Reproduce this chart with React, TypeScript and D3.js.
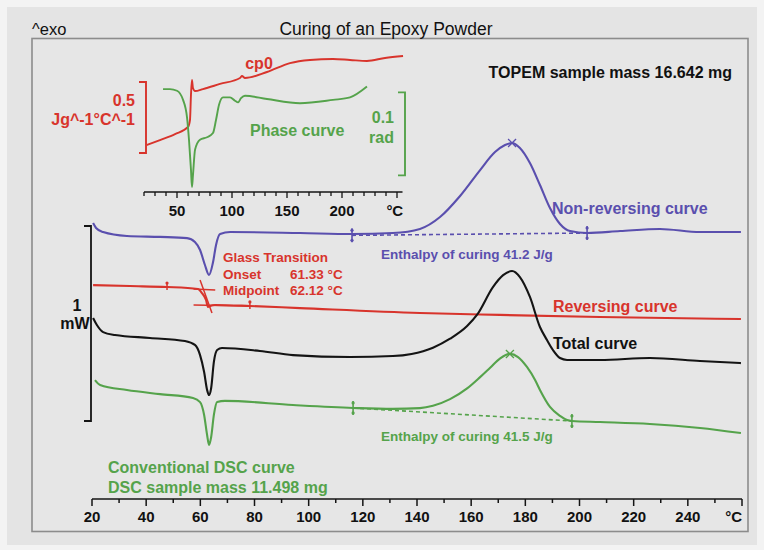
import React from "react";
import * as d3 from "d3";

// ---------- data (temperature °C, heat flow mW with plot offsets) ----------
const nonRevT = [20.4, 21.5, 24.1, 32.9, 45.1, 55.1, 58.0, 59.9, 61.7, 63.2, 64.7, 65.8, 67.3, 71, 96.8, 116, 131.1, 141.1, 148.5, 155.9, 163.3, 168.8, 172.5, 175.1, 178.0, 181.7, 185.4, 189.1, 192.8, 196.5, 202.8, 215, 229.7, 244.5, 259.6];
const nonRevV = [1.415, 1.39, 1.369, 1.349, 1.344, 1.338, 1.318, 1.277, 1.2, 1.149, 1.215, 1.303, 1.359, 1.369, 1.364, 1.359, 1.364, 1.385, 1.446, 1.554, 1.687, 1.779, 1.815, 1.826, 1.8, 1.723, 1.61, 1.492, 1.41, 1.374, 1.364, 1.374, 1.385, 1.369, 1.369];

const revT = [20.4, 34, 47.7, 59.1, 60.6, 62.1, 62.8, 63.6, 65.4, 78.3, 96.8, 141.1, 170.6, 207.6, 259.6];
const revV = [1.097, 1.092, 1.087, 1.077, 1.056, 1.021, 0.985, 0.99, 0.995, 0.99, 0.979, 0.954, 0.944, 0.933, 0.923];

const totalT = [20.4, 21.8, 24.1, 28.5, 41.4, 54.3, 58, 59.9, 61.4, 62.5, 63.2, 64, 65, 66.2, 68, 82, 94.2, 115.3, 131.1, 138, 145.9, 152.2, 158.5, 162.2, 168.1, 171.8, 175.1, 178, 181.7, 185.4, 188, 190.2, 192.8, 195.4, 207.6, 226, 244.5, 259.6];
const totalV = [0.928, 0.892, 0.856, 0.841, 0.826, 0.81, 0.79, 0.738, 0.651, 0.559, 0.533, 0.569, 0.703, 0.764, 0.774, 0.759, 0.738, 0.728, 0.733, 0.744, 0.776, 0.822, 0.887, 0.945, 1.088, 1.148, 1.169, 1.138, 1.036, 0.882, 0.815, 0.764, 0.723, 0.713, 0.713, 0.723, 0.708, 0.697];

const dscT = [21.1, 23, 32.9, 45.1, 57.3, 59.9, 61.4, 62.5, 63.2, 64, 65, 66.2, 69.1, 94.2, 116.4, 131, 141.1, 145.9, 152.2, 158.5, 163.3, 167, 170.6, 174.3, 177.3, 180.6, 183.6, 185.4, 189.1, 192.8, 195.4, 197.2, 207.6, 226, 244.5, 259.6];
const dscV = [0.61, 0.585, 0.559, 0.538, 0.518, 0.497, 0.431, 0.328, 0.277, 0.318, 0.431, 0.497, 0.503, 0.482, 0.467, 0.462, 0.466, 0.478, 0.512, 0.567, 0.625, 0.673, 0.72, 0.744, 0.728, 0.677, 0.61, 0.559, 0.472, 0.426, 0.405, 0.4, 0.395, 0.385, 0.364, 0.338];

// inset: cp0 (J/g°C) and phase (rad)
const cpT = [22.7, 34.5, 48.2, 60, 61.8, 62.7, 63.6, 64.5, 66.4, 73.6, 89.1, 107.3, 109.1, 111.8, 131.8, 152.7, 170.9, 191.8, 207.3, 222.7, 239.1, 255.5];
const cpV = [0.331, 0.366, 0.408, 0.458, 0.507, 0.683, 0.789, 0.732, 0.711, 0.725, 0.761, 0.803, 0.817, 0.803, 0.845, 0.908, 0.93, 0.937, 0.93, 0.923, 0.944, 0.958];

const phT = [37.3, 43.6, 50, 55.5, 59.1, 60.9, 62.7, 63.6, 64.5, 66.4, 70.9, 77.3, 82.7, 85.5, 88.2, 91.8, 98.2, 102.7, 105.5, 108.2, 111.8, 131.8, 161.8, 191.8, 207.3, 222.7];
const phV = [0.124, 0.124, 0.122, 0.111, 0.09, 0.063, 0.027, 0.006, 0.02, 0.051, 0.063, 0.066, 0.071, 0.087, 0.105, 0.114, 0.114, 0.11, 0.108, 0.113, 0.116, 0.112, 0.107, 0.111, 0.114, 0.127];

// enthalpy baselines [T1, v1, T2, v2] and peak temps
const nonRevBase = [116, 1.352, 202.8, 1.364];
const dscBase = [116.4, 0.467, 197.2, 0.4];
const nonRevPeak = [175.1, 1.826];
const dscPeak = [174.3, 0.744];

// glass transition construction (T, mW)
const tgUpper = [57.5, 1.077, 65.5, 1.072];
const tgLower = [57.5, 0.995, 78, 0.99];
const tgSteep = [59.9, 1.123, 64.3, 0.954];
const tgMarks = [[47.7, 1.087], [78.3, 0.99]];

const mainTicks = d3.range(20, 261, 10);
const mainLabels = [20, 40, 60, 80, 100, 120, 140, 160, 180, 200, 220, 240];
const insetTicks = d3.range(20, 251, 10);
const insetLabels = [50, 100, 150, 200];

const scaleBarStart = 0.4; // mW
const scaleBarLen = 1; // mW
const cpBar = [0.275, 0.775];
const phBar = [0.02, 0.12];

// ---------- colours ----------
const BLUE = "#5a4fae";
const RED = "#d8342c";
const GREEN = "#55a34b";
const BLACK = "#141414";
const FONT = "'Liberation Sans', Arial, sans-serif";

export default function App() {
  const x = d3.scaleLinear().domain([20, 260]).range([92, 742]);
  const y = d3.scaleLinear().domain([0, 2.5]).range([499, 11.5]);
  const xi = d3.scaleLinear().domain([20, 255]).range([144, 402.5]);
  const yc = d3.scaleLinear().domain([0, 1]).range([192, 50]);
  const yp = d3.scaleLinear().domain([0, 0.1]).range([192, 109]);

  const mk = (xs: number[], ys: number[], sx: any, sy: any) =>
    d3
      .line<number>()
      .x((_, i) => sx(xs[i]))
      .y((_, i) => sy(ys[i]))
      .curve(d3.curveMonotoneX)(xs.map((_, i) => i)) || "";

  const seg = (s: number[], sx: any, sy: any, color: string, extra: any = {}) => (
    <line x1={sx(s[0])} y1={sy(s[1])} x2={sx(s[2])} y2={sy(s[3])} stroke={color} {...extra} />
  );

  const marker = (t: number, v: number, color: string, key: string) => (
    <g key={key}>
      <line x1={x(t)} x2={x(t)} y1={y(v) - 7} y2={y(v) + 7} stroke={color} strokeWidth={1.6} />
      <circle cx={x(t)} cy={y(v) - 5} r={1.6} fill={color} />
      <circle cx={x(t)} cy={y(v) + 5} r={1.6} fill={color} />
    </g>
  );

  const cross = (t: number, v: number, color: string) => (
    <g stroke={color} strokeWidth={1.3}>
      <line x1={x(t) - 4} y1={y(v) - 4} x2={x(t) + 4} y2={y(v) + 4} />
      <line x1={x(t) - 4} y1={y(v) + 4} x2={x(t) + 4} y2={y(v) - 4} />
    </g>
  );

  const big = { fontFamily: FONT, fontWeight: 700, fontSize: 16 };
  const mid = { fontFamily: FONT, fontWeight: 700, fontSize: 13.5 };
  const cpX = xi(20) + 2;

  return (
    <svg width={764} height={550} style={{ position: "absolute", left: 0, top: 0 }}>
      <rect x={0} y={0} width={764} height={550} fill="#f3f3f3" />
      <rect x={7} y={7} width={750} height={538} fill="#e4e4e4" />
      <rect x={32} y={38.5} width={716} height={493} fill="#e6e6e6" stroke="#8c8c8c" strokeWidth={1.6} />

      <text x={32} y={35} style={{ fontFamily: FONT, fontSize: 16.5 }} fill="#111">^exo</text>
      <text x={386} y={35} textAnchor="middle" style={{ fontFamily: FONT, fontSize: 17.5 }} fill="#111">
        Curing of an Epoxy Powder
      </text>
      <text x={732} y={78} textAnchor="end" style={big} fill="#111">TOPEM sample mass 16.642 mg</text>

      {/* inset */}
      <path d={mk(cpT, cpV, xi, yc)} fill="none" stroke={RED} strokeWidth={1.9} />
      <path d={mk(phT, phV, xi, yp)} fill="none" stroke={GREEN} strokeWidth={1.9} />
      <line x1={xi(20)} x2={xi(255)} y1={192} y2={192} stroke={BLACK} strokeWidth={1.5} />
      {insetTicks.map((t) => (
        <line key={"it" + t} x1={xi(t)} x2={xi(t)} y1={192} y2={t % 50 === 0 ? 198 : 196} stroke={BLACK} strokeWidth={1.3} />
      ))}
      {insetLabels.map((t) => (
        <text key={"il" + t} x={xi(t)} y={216} textAnchor="middle" style={{ ...big, fontSize: 15 }} fill="#111">{t}</text>
      ))}
      <text x={xi(248)} y={216} textAnchor="middle" style={{ ...big, fontSize: 15 }} fill="#111">°C</text>
      <path
        d={`M${cpX - 7},${yc(cpBar[1])}H${cpX}V${yc(cpBar[0])}H${cpX - 7}`}
        fill="none" stroke={RED} strokeWidth={1.9}
      />
      <text x={135} y={106} textAnchor="end" style={big} fill={RED}>0.5</text>
      <text x={135} y={125} textAnchor="end" style={big} fill={RED}>Jg^-1°C^-1</text>
      <text x={259} y={69} textAnchor="middle" style={big} fill={RED}>cp0</text>
      <path
        d={`M398,${yp(phBar[1])}H405V${yp(phBar[0])}H398`}
        fill="none" stroke={GREEN} strokeWidth={1.9}
      />
      <text x={394} y={123} textAnchor="end" style={big} fill={GREEN}>0.1</text>
      <text x={394} y={143} textAnchor="end" style={big} fill={GREEN}>rad</text>
      <text x={250} y={136} style={big} fill={GREEN}>Phase curve</text>

      {/* scale bar */}
      <path
        d={`M84,${y(scaleBarStart + scaleBarLen)}H91V${y(scaleBarStart)}H84`}
        fill="none" stroke={BLACK} strokeWidth={1.8}
      />
      <text x={77} y={311} textAnchor="middle" style={big} fill="#111">1</text>
      <text x={75} y={329} textAnchor="middle" style={big} fill="#111">mW</text>

      {/* main curves */}
      <path d={mk(nonRevT, nonRevV, x, y)} fill="none" stroke={BLUE} strokeWidth={2.1} />
      <path d={mk(revT, revV, x, y)} fill="none" stroke={RED} strokeWidth={2.1} />
      <path d={mk(totalT, totalV, x, y)} fill="none" stroke={BLACK} strokeWidth={2.1} />
      <path d={mk(dscT, dscV, x, y)} fill="none" stroke={GREEN} strokeWidth={2.1} />

      {seg(nonRevBase, x, y, BLUE, { strokeWidth: 1.6, strokeDasharray: "4,3" })}
      {seg(dscBase, x, y, GREEN, { strokeWidth: 1.6, strokeDasharray: "4,3" })}
      {marker(nonRevBase[0], nonRevBase[1], BLUE, "b1")}
      {marker(nonRevBase[2], nonRevBase[3], BLUE, "b2")}
      {marker(dscBase[0], dscBase[1], GREEN, "g1")}
      {marker(dscBase[2], dscBase[3], GREEN, "g2")}
      {cross(nonRevPeak[0], nonRevPeak[1], BLUE)}
      {cross(dscPeak[0], dscPeak[1], GREEN)}

      {seg(tgUpper, x, y, RED, { strokeWidth: 1.5 })}
      {seg(tgLower, x, y, RED, { strokeWidth: 1.5 })}
      {seg(tgSteep, x, y, RED, { strokeWidth: 1.5 })}
      {tgMarks.map((m, i) => (
        <g key={"tm" + i}>
          <line x1={x(m[0])} x2={x(m[0])} y1={y(m[1]) - 5} y2={y(m[1]) + 3} stroke={RED} strokeWidth={1.5} />
          <circle cx={x(m[0])} cy={y(m[1]) - 4} r={1.6} fill={RED} />
        </g>
      ))}

      <text x={223} y={262} style={mid} fill={RED}>Glass Transition</text>
      <text x={223} y={279} style={mid} fill={RED}>Onset</text>
      <text x={290} y={279} style={mid} fill={RED}>61.33 °C</text>
      <text x={223} y={295} style={mid} fill={RED}>Midpoint</text>
      <text x={290} y={295} style={mid} fill={RED}>62.12 °C</text>

      <text x={381} y={259} style={mid} fill={BLUE}>Enthalpy of curing 41.2 J/g</text>
      <text x={381} y={441} style={mid} fill={GREEN}>Enthalpy of curing 41.5 J/g</text>

      <text x={552} y={214} style={big} fill={BLUE}>Non-reversing curve</text>
      <text x={553} y={312} style={big} fill={RED}>Reversing curve</text>
      <text x={553} y={349} style={big} fill="#111">Total curve</text>
      <text x={108} y={473} style={big} fill={GREEN}>Conventional DSC curve</text>
      <text x={108} y={493} style={big} fill={GREEN}>DSC sample mass 11.498 mg</text>

      {/* main axis */}
      <line x1={x(20)} x2={x(260)} y1={499} y2={499} stroke={BLACK} strokeWidth={1.6} />
      {mainTicks.map((t) => (
        <line key={"mt" + t} x1={x(t)} x2={x(t)} y1={499} y2={t % 20 === 0 ? 506 : 503} stroke={BLACK} strokeWidth={1.5} />
      ))}
      {mainLabels.map((t) => (
        <text key={"ml" + t} x={x(t)} y={522} textAnchor="middle" style={{ ...big, fontSize: 15 }} fill="#111">{t}</text>
      ))}
      <text x={x(260)} y={522} textAnchor="end" style={{ ...big, fontSize: 15 }} fill="#111">°C</text>
    </svg>
  );
}
